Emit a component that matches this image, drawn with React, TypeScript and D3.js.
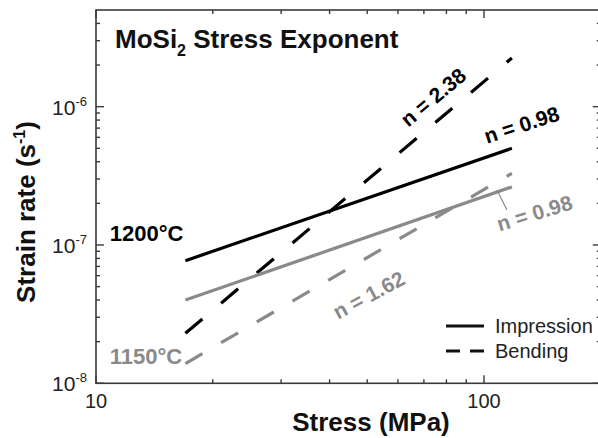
import React, { useEffect, useRef } from 'react';
import * as d3 from 'd3';

// stress range over which each fitted line is drawn (MPa)
const stressSpan = [17, 118];

// strain rates at the two ends of each fitted line (1/s)
const impression1200 = [7.7e-8, 5.0e-7];
const bending1200 = [2.3e-8, 2.25e-6];
const impression1150 = [4.0e-8, 2.63e-7];
const bending1150 = [1.39e-8, 3.3e-7];

const seriesNames = ['1200 impression', '1200 bending', '1150 impression', '1150 bending'];
const seriesValues = [impression1200, bending1200, impression1150, bending1150];
const seriesDashed = [false, true, false, true];
const seriesTemp = ['1200', '1200', '1150', '1150'];

// exponent labels: text, stress, strain rate, angle
const exponentText = ['n = 2.38', 'n = 0.98', 'n = 0.98', 'n = 1.62'];
const exponentAt = [
  [74, 1.17e-6],
  [125, 7.4e-7],
  [135, 1.7e-7],
  [50.5, 4.35e-8],
];
const exponentAngle = [-40, -18, -17, -28];
const exponentTemp = ['1200', '1200', '1150', '1150'];

const tempLabels = ['1200°C', '1150°C'];
const tempKeys = ['1200', '1150'];
const tempLabelAt = [
  [10.85, 1.06e-7],
  [10.85, 1.38e-8],
];

const xMajor = [10, 100];
const xMinor = [20, 30, 40, 50, 60, 70, 80, 90, 200];
const yMajor = [1e-8, 1e-7, 1e-6];
const yMajorExp = ['-8', '-7', '-6'];
const yMinor = [
  2e-8, 3e-8, 4e-8, 5e-8, 6e-8, 7e-8, 8e-8, 9e-8,
  2e-7, 3e-7, 4e-7, 5e-7, 6e-7, 7e-7, 8e-7, 9e-7,
  2e-6, 3e-6, 4e-6,
];

const legendNames = ['Impression', 'Bending'];

const W = 598;
const H = 438;
const FONT = 'Liberation Sans, Arial, Helvetica, sans-serif';
const colors = { black: '#000', gray: '#8a8a8a', axis: '#3a3a3a' };

export default function App() {
  const ref = useRef<SVGSVGElement | null>(null);

  useEffect(() => {
    const svg = d3.select(ref.current);
    svg.selectAll('*').remove();

    const x = d3.scaleLog().domain([10, 200]).range([96, 600.8]);
    const y = d3.scaleLog().domain([1e-8, 5e-6]).range([383.3, 10]);
    const [x0, x1] = x.range();
    const [y0, y1] = y.range();
    const tempColor = (t: string) => (t === '1200' ? colors.black : colors.gray);

    // frame
    svg
      .append('rect')
      .attr('x', x0)
      .attr('y', y1)
      .attr('width', x1 - x0)
      .attr('height', y0 - y1)
      .attr('fill', 'none')
      .attr('stroke', colors.axis)
      .attr('stroke-width', 1.6);

    const ticks = svg.append('g').attr('stroke', colors.axis).attr('stroke-width', 1.4);
    const xTicks = [...xMajor.map((v) => [v, 8]), ...xMinor.map((v) => [v, 4])];
    xTicks.forEach(([v, len]) => {
      ticks.append('line').attr('x1', x(v)).attr('x2', x(v)).attr('y1', y0).attr('y2', y0 - len);
      ticks.append('line').attr('x1', x(v)).attr('x2', x(v)).attr('y1', y1).attr('y2', y1 + len);
    });
    const yTicks = [...yMajor.map((v) => [v, 8]), ...yMinor.map((v) => [v, 4])];
    yTicks.forEach(([v, len]) => {
      ticks.append('line').attr('y1', y(v)).attr('y2', y(v)).attr('x1', x0).attr('x2', x0 + len);
      ticks.append('line').attr('y1', y(v)).attr('y2', y(v)).attr('x1', x1).attr('x2', x1 - len);
    });

    // x tick labels
    svg
      .append('g')
      .selectAll('text')
      .data(xMajor)
      .join('text')
      .attr('x', (d) => x(d))
      .attr('y', y0 + 25)
      .attr('text-anchor', 'middle')
      .attr('font-family', FONT)
      .attr('font-size', 20)
      .attr('fill', '#222')
      .text((d) => String(d));

    // y tick labels
    const yl = svg
      .append('g')
      .selectAll('text')
      .data(yMajor)
      .join('text')
      .attr('x', x0 - 9)
      .attr('y', (d) => y(d) + 8)
      .attr('text-anchor', 'end')
      .attr('font-family', FONT)
      .attr('font-size', 21)
      .attr('fill', '#222');
    yl.append('tspan').text('10');
    yl.append('tspan')
      .attr('dy', -9)
      .attr('font-size', 13)
      .text((d, i) => yMajorExp[i]);

    // axis titles
    svg
      .append('text')
      .attr('x', 371)
      .attr('y', 431)
      .attr('text-anchor', 'middle')
      .attr('font-family', FONT)
      .attr('font-weight', 'bold')
      .attr('font-size', 26)
      .attr('fill', '#111')
      .text('Stress (MPa)');

    const yt = svg
      .append('text')
      .attr('transform', 'translate(35,212) rotate(-90)')
      .attr('text-anchor', 'middle')
      .attr('font-family', FONT)
      .attr('font-weight', 'bold')
      .attr('font-size', 26)
      .attr('fill', '#111');
    yt.append('tspan').text('Strain rate (s');
    yt.append('tspan').attr('dy', -10).attr('font-size', 16).text('-1');
    yt.append('tspan').attr('dy', 10).text(')');

    // chart title
    const tt = svg
      .append('text')
      .attr('x', 115)
      .attr('y', 48)
      .attr('font-family', FONT)
      .attr('font-weight', 'bold')
      .attr('font-size', 26)
      .attr('fill', '#111');
    tt.append('tspan').text('MoSi');
    tt.append('tspan').attr('dy', 8).attr('font-size', 16).text('2');
    tt.append('tspan').attr('dy', -8).text(' Stress Exponent');

    // fitted lines
    const lines = svg.append('g').attr('fill', 'none').attr('stroke-width', 3.2);
    seriesValues.forEach((vals, i) => {
      const px0 = x(stressSpan[0]);
      const px1 = x(stressSpan[1]);
      const py0 = y(vals[0]);
      const py1 = y(vals[1]);
      const len = Math.hypot(px1 - px0, py1 - py0);
      const k = len / (px1 - px0);
      const line = lines
        .append('line')
        .attr('class', seriesNames[i])
        .attr('x1', px0)
        .attr('y1', py0)
        .attr('x2', px1)
        .attr('y2', py1)
        .attr('stroke', tempColor(seriesTemp[i]));
      if (seriesDashed[i]) line.attr('stroke-dasharray', `${17 * k},${18.7 * k}`);
    });

    // leader for the 1150 impression exponent
    svg
      .append('line')
      .attr('x1', x(108))
      .attr('y1', y(2.5e-7))
      .attr('x2', x(114.5))
      .attr('y2', y(1.8e-7))
      .attr('stroke', colors.gray)
      .attr('stroke-width', 1.2);

    // exponent labels
    svg
      .append('g')
      .selectAll('text')
      .data(exponentText)
      .join('text')
      .attr(
        'transform',
        (d, i) => `translate(${x(exponentAt[i][0])},${y(exponentAt[i][1])}) rotate(${exponentAngle[i]})`
      )
      .attr('dy', '0.35em')
      .attr('text-anchor', 'middle')
      .attr('font-family', FONT)
      .attr('font-weight', 'bold')
      .attr('font-size', 21)
      .attr('fill', (d, i) => tempColor(exponentTemp[i]))
      .text((d) => d);

    // temperature labels
    svg
      .append('g')
      .selectAll('text')
      .data(tempLabels)
      .join('text')
      .attr('x', (d, i) => x(tempLabelAt[i][0]))
      .attr('y', (d, i) => y(tempLabelAt[i][1]))
      .attr('font-family', FONT)
      .attr('font-weight', 'bold')
      .attr('font-size', 22)
      .attr('fill', (d, i) => tempColor(tempKeys[i]))
      .text((d) => d);

    // legend
    const lg = svg.append('g');
    legendNames.forEach((name, i) => {
      const ly = 326 + i * 25;
      const l = lg
        .append('line')
        .attr('x1', 446)
        .attr('x2', 484)
        .attr('y1', ly)
        .attr('y2', ly)
        .attr('stroke', '#111')
        .attr('stroke-width', 3);
      if (i === 1) l.attr('stroke-dasharray', '14,10');
      lg.append('text')
        .attr('x', 495)
        .attr('y', ly + 7)
        .attr('font-family', FONT)
        .attr('font-size', 20)
        .attr('fill', '#222')
        .text(name);
    });
  }, []);

  return (
    <div style={{ position: 'fixed', left: 0, top: 0, background: '#fff' }}>
      <svg ref={ref} width={W} height={H} />
    </div>
  );
}
